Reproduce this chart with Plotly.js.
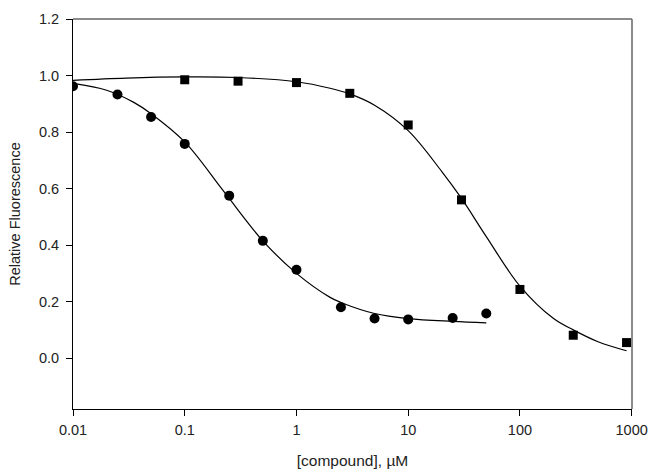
<!DOCTYPE html>
<html>
<head>
<meta charset="utf-8">
<script src="https://cdn.plot.ly/plotly-3.0.1.min.js"></script>
<style>html,body{margin:0;padding:0;background:#fff;}#chart{width:650px;height:473px;}</style>
</head>
<body>
<div id="chart"></div>
<script>
// Compound A (circles) data
const circleConc = [0.01, 0.025, 0.05, 0.1, 0.25, 0.5, 1, 2.5, 5, 10, 25, 50];
const circleFluor = [0.962, 0.933, 0.853, 0.758, 0.575, 0.415, 0.313, 0.18, 0.14, 0.137, 0.142, 0.158];
// Compound B (squares) data
const squareConc = [0.1, 0.3, 1, 3, 10, 30, 100, 300, 900];
const squareFluor = [0.985, 0.98, 0.975, 0.937, 0.825, 0.56, 0.243, 0.081, 0.055];
// Fitted curves
const circleFitConc = [0.01, 0.02, 0.035, 0.05, 0.1, 0.2, 0.25, 0.5, 1, 2, 2.5, 5, 10, 25, 50];
const circleFitFluor = [0.972, 0.948, 0.905, 0.865, 0.765, 0.615, 0.565, 0.415, 0.30, 0.215, 0.197, 0.158, 0.14, 0.13, 0.125];
const squareFitConc = [0.01, 0.03, 0.1, 0.3, 1, 2, 3, 5, 10, 20, 30, 50, 100, 200, 300, 500, 900];
const squareFitFluor = [0.983, 0.991, 0.995, 0.993, 0.978, 0.955, 0.935, 0.895, 0.805, 0.66, 0.565, 0.43, 0.255, 0.14, 0.10, 0.058, 0.026];
// Axis ticks
const xTickVals = [0.01, 0.1, 1, 10, 100, 1000];
const xTickText = ['0.01', '0.1', '1', '10', '100', '1000'];
const yTickVals = [0.0, 0.2, 0.4, 0.6, 0.8, 1.0, 1.2];

const lineStyle = {color: '#000', width: 1.2};
const traces = [
  {x: circleFitConc, y: circleFitFluor, mode: 'lines', line: Object.assign({shape: 'spline', smoothing: 1}, lineStyle), hoverinfo: 'skip'},
  {x: squareFitConc, y: squareFitFluor, mode: 'lines', line: Object.assign({shape: 'spline', smoothing: 1}, lineStyle), hoverinfo: 'skip'},
  {x: circleConc, y: circleFluor, mode: 'markers', marker: {symbol: 'circle', size: 10, color: '#000'}},
  {x: squareConc, y: squareFluor, mode: 'markers', marker: {symbol: 'square', size: 9, color: '#000'}}
];

const family = 'Liberation Sans, Arial, sans-serif';
const tickFont = {family: family, size: 14.5, color: '#222'};
const xTitleFont = {family: family, size: 15.5, color: '#222'};
const yTitleFont = {family: family, size: 14.5, color: '#222'};
const layout = {
  width: 650, height: 473,
  margin: {l: 73, r: 17.5, t: 18.5, b: 64},
  paper_bgcolor: '#fff', plot_bgcolor: '#fff',
  showlegend: false,
  font: tickFont,
  xaxis: {
    type: 'log', range: [-2, 3.003],
    tickvals: xTickVals, ticktext: xTickText,
    ticks: 'outside', ticklen: 6, tickcolor: '#000', tickwidth: 1,
    ticklabelstandoff: 2,
    showline: true, linecolor: '#000', linewidth: 1,
    showgrid: false, zeroline: false,
    tickfont: tickFont,
    title: {text: '[compound], µM', font: xTitleFont, standoff: 17},
    automargin: false
  },
  yaxis: {
    range: [-0.18, 1.2],
    tickvals: yTickVals, tickformat: '.1f',
    ticks: 'outside', ticklen: 6, tickcolor: '#000', tickwidth: 1,
    ticklabelstandoff: 4,
    showline: true, linecolor: '#000', linewidth: 1,
    showgrid: false, zeroline: false,
    tickfont: tickFont,
    title: {text: 'Relative Fluorescence', font: yTitleFont, standoff: 14},
    automargin: false
  },
  shapes: [
    {type: 'line', xref: 'paper', yref: 'paper', x0: 0, x1: 1, y0: 1, y1: 1, line: {color: '#666', width: 1.5}},
    {type: 'line', xref: 'paper', yref: 'paper', x0: 1, x1: 1, y0: 0, y1: 1, line: {color: '#666', width: 1.5}}
  ]
};
Plotly.newPlot('chart', traces, layout, {displayModeBar: false, staticPlot: true});
</script>
</body>
</html>
